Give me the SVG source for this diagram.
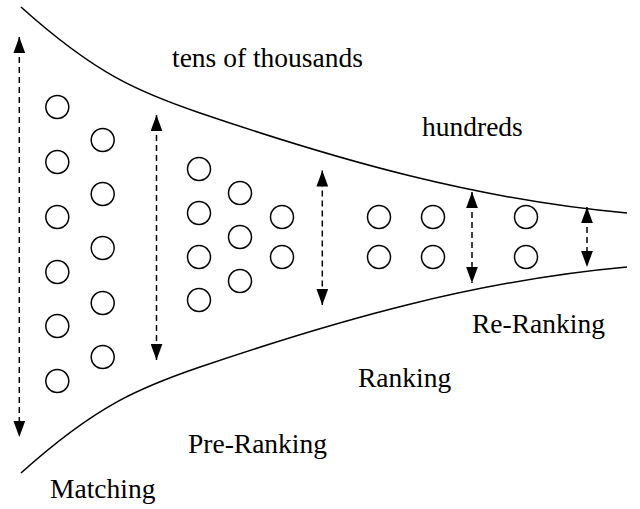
<svg xmlns="http://www.w3.org/2000/svg" xmlns:xlink="http://www.w3.org/1999/xlink" width="640" height="509" viewBox="0 0 640 509">
<style>
.curve{fill:none;stroke:#000;stroke-width:1.5}
.item{fill:#fff;stroke:#000;stroke-width:1.5}
.arr{stroke:#000;stroke-width:1.5;stroke-dasharray:6,4;fill:none;marker-start:url(#ah);marker-end:url(#ah)}
.lbl{font-family:'Liberation Serif','Times New Roman',serif;font-size:27.5px;fill:#000}
</style>
<defs>
<marker id="ah" markerUnits="userSpaceOnUse" markerWidth="16" markerHeight="12" viewBox="0 0 15 11" refX="15" refY="5.5" orient="auto-start-reverse">
<path d="M0,0 L15,5.5 L0,11 Z" fill="#000"/>
</marker>
<path id="topcurve" d="M21,7 C96,74.5 140,92.6 200,113 C340,160.6 477,199.5 627,213"/>
</defs>
<rect width="640" height="509" fill="#fff"/>
<g id="funnel">
<use xlink:href="#topcurve" href="#topcurve" class="curve"/>
<use xlink:href="#topcurve" href="#topcurve" class="curve" transform="matrix(1,0,0,-1,0,480)"/>
</g>
<g id="connectors">
<line class="arr" x1="19.3" y1="37" x2="19.3" y2="437"/>
<line class="arr" x1="156.5" y1="115" x2="156.5" y2="360"/>
<line class="arr" x1="322.3" y1="170.5" x2="322.3" y2="305"/>
<line class="arr" x1="472" y1="192" x2="472" y2="283"/>
<line class="arr" x1="587" y1="207" x2="587" y2="267"/>
</g>
<g id="matching-items">
<circle class="item" cx="57.3" cy="107" r="11.5"/>
<circle class="item" cx="57.3" cy="162" r="11.5"/>
<circle class="item" cx="57.3" cy="217" r="11.5"/>
<circle class="item" cx="57.3" cy="272" r="11.5"/>
<circle class="item" cx="57.3" cy="326" r="11.5"/>
<circle class="item" cx="57.3" cy="381" r="11.5"/>
<circle class="item" cx="102.7" cy="140" r="11.5"/>
<circle class="item" cx="102.7" cy="194" r="11.5"/>
<circle class="item" cx="102.7" cy="248" r="11.5"/>
<circle class="item" cx="102.7" cy="303" r="11.5"/>
<circle class="item" cx="102.7" cy="357" r="11.5"/>
</g>
<g id="preranking-items">
<circle class="item" cx="199" cy="169" r="11.5"/>
<circle class="item" cx="199" cy="213" r="11.5"/>
<circle class="item" cx="199" cy="257" r="11.5"/>
<circle class="item" cx="199" cy="300" r="11.5"/>
<circle class="item" cx="240" cy="193" r="11.5"/>
<circle class="item" cx="240" cy="237" r="11.5"/>
<circle class="item" cx="240" cy="281" r="11.5"/>
<circle class="item" cx="282" cy="217" r="11.5"/>
<circle class="item" cx="282" cy="257" r="11.5"/>
</g>
<g id="ranking-items">
<circle class="item" cx="379" cy="217" r="11.5"/>
<circle class="item" cx="379" cy="257" r="11.5"/>
<circle class="item" cx="433" cy="217" r="11.5"/>
<circle class="item" cx="433" cy="257" r="11.5"/>
</g>
<g id="reranking-items">
<circle class="item" cx="526" cy="217" r="11.5"/>
<circle class="item" cx="526" cy="257" r="11.5"/>
</g>
<g id="labels">
<text class="lbl" x="172" y="67">tens of thousands</text>
<text class="lbl" x="422" y="136">hundreds</text>
<text class="lbl" x="472" y="333">Re-Ranking</text>
<text class="lbl" x="358" y="387">Ranking</text>
<text class="lbl" x="188" y="453">Pre-Ranking</text>
<text class="lbl" x="50" y="498">Matching</text>
</g>
</svg>
